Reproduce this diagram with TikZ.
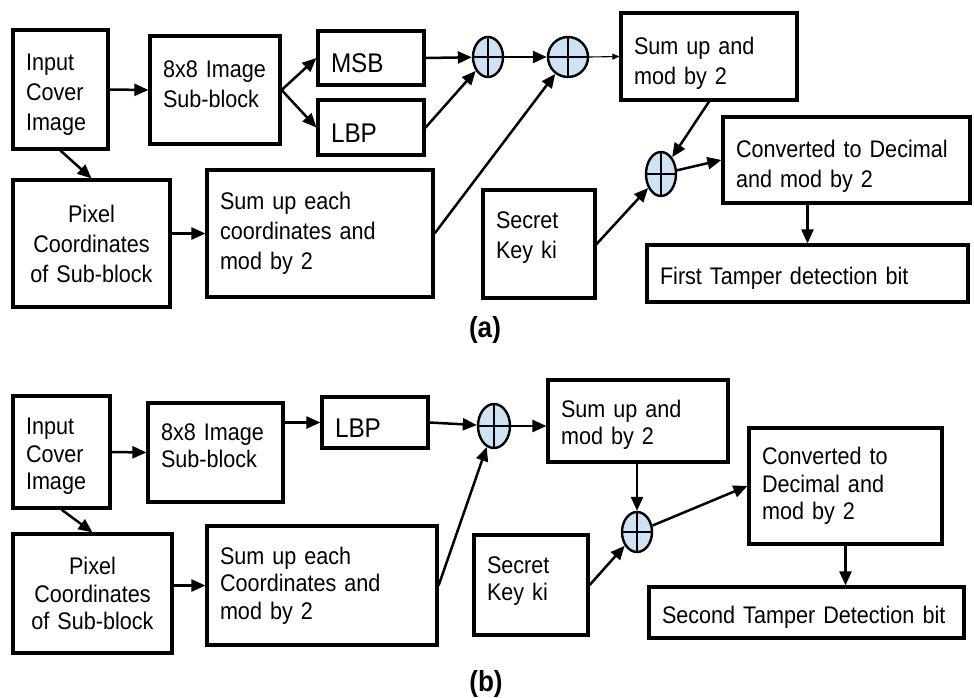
\documentclass[tikz,border=0pt]{standalone}
\usepackage{fontspec}
\setmainfont{Liberation Sans}[FakeStretch=0.9]
\usetikzlibrary{arrows.meta,shapes.geometric,calc}

\definecolor{xorfill}{HTML}{CFE2F3}

\tikzset{
  blk/.style={draw, line width=3.2pt, align=left, inner xsep=12pt, inner ysep=0pt,
    font=\fontsize{24}{30}\selectfont},
  blkb/.style={blk, font=\fontsize{24}{27.5}\selectfont},
  bigtext/.style={font=\fontsize{27}{30}\selectfont},
  xorgate/.style={draw, ellipse, line width=2.4pt, fill=xorfill, inner sep=0pt,
    path picture={\draw[line width=2pt]
      (path picture bounding box.north) -- (path picture bounding box.south)
      (path picture bounding box.west) -- (path picture bounding box.east);}},
  flow/.style={line width=2.5pt, -{Triangle[length=14pt,width=12pt]}},
  thinflow/.style={line width=1.1pt, -{Triangle[length=7pt,width=6pt]}},
  caption/.style={font=\fontsize{29}{30}\selectfont\bfseries}
}

% box from corner (x1,y1) to corner (x2,y2), y measured downwards
\newcommand\boxat[7][blk]{%
  \pgfmathsetmacro\bxw{#5-#3}\pgfmathsetmacro\bxh{#6-#4}%
  \pgfmathsetmacro\bxt{#5-#3-26}%
  \node[#1, text width=\bxt pt, minimum width=\bxw pt, minimum height=\bxh pt]
    (#2) at ({(#3+#5)/2},{(#4+#6)/2}) {#7};}

% exclusive-or gate: name, centre x, centre y, half width, half height
\newcommand\xorat[5]{%
  \node[xorgate, minimum width=#4*2pt, minimum height=#5*2pt] (#1) at (#2,#3) {};}

% move a box's text down (taller first line) or up (space below the last line)
\newcommand\txtlower[1]{\rule{0pt}{\dimexpr0.72em+#1\relax}}
\newcommand\txtraise[1]{\par\hrule height 0pt\vskip#1\hrule height 0pt}

\begin{document}
\begin{tikzpicture}[x=1pt,y=-1pt]
\useasboundingbox (0,0) rectangle (974,697);

% ---------- (a) first tamper detection bit ----------
\boxat{inA}{13}{30}{108}{149}{\txtlower{10pt}Input\\Cover\\Image}
\boxat{subA}{150}{36}{280}{144}{8x8 Image\\Sub-block\txtraise{12pt}}
\boxat[blk,bigtext]{msbA}{318}{31}{424}{85}{\txtlower{10pt}MSB}
\boxat[blk,bigtext]{lbpA}{318}{100}{424}{155}{\txtlower{10pt}LBP}
\boxat[blk,align=center]{pixA}{13}{180}{170}{307}{Pixel\\Coordinates\\of Sub-block}
\boxat{sumA}{207}{170}{433}{297}{Sum up each\\coordinates and\\mod by 2}
\boxat{secA}{483}{190}{595}{298}{Secret\\Key ki\txtraise{12pt}}
\boxat{supA}{621}{13}{797}{100}{\txtlower{14pt}Sum up and\\mod by 2}
\boxat{convA}{723}{117}{970}{203}{\txtlower{12pt}Converted to Decimal\\and mod by 2}
\boxat{firstA}{647}{245}{968}{302}{\txtlower{10pt}First Tamper detection bit}
\xorat{xA1}{488}{57}{15}{20}
\xorat{xA2}{568}{57}{20}{20}
\xorat{xA3}{661}{174}{15}{22}
\node[caption] (capA) at (485,330) {(a)};

\draw[flow] (inA.east) -- (subA.west);
\draw[flow] (inA.south) -- (pixA.north);
\draw[flow] (subA.east) -- (msbA.west);
\draw[flow] (subA.east) -- (lbpA.west);
\draw[flow] (msbA.east) -- (xA1);
\draw[flow] (lbpA.east) -- (xA1);
\draw[flow] (xA1) -- (xA2);
\draw[thinflow] (xA2.east) -- (supA.west);
\draw[flow] (pixA.east |- sumA.west) -- (sumA.west);
\draw[flow] (sumA.east) -- (xA2);
\draw[flow] (supA.south) -- (xA3);
\draw[flow] (secA.east) -- (xA3);
\draw[flow] (xA3) -- (convA.west);
\draw[flow] (firstA.north |- convA.south) -- (firstA.north);

% ---------- (b) second tamper detection bit ----------
\boxat[blkb]{inB}{13}{396}{110}{508}{\txtlower{8pt}Input\\Cover\\Image}
\boxat[blkb]{subB}{148}{403}{283}{502}{8x8 Image\\Sub-block\txtraise{14pt}}
\boxat[blkb,bigtext]{lbpB}{322}{397}{428}{448}{\txtlower{10pt}LBP}
\boxat[blkb,align=center]{pixB}{13}{534}{172}{653}{Pixel\\Coordinates\\of Sub-block}
\boxat[blkb]{sumB}{207}{526}{437}{645}{Sum up each\\Coordinates and\\mod by 2}
\boxat[blkb]{secB}{474}{535}{588}{635}{Secret\\Key ki\txtraise{8pt}}
\boxat[blkb]{supB}{548}{380}{728}{462}{\txtlower{8pt}Sum up and\\mod by 2}
\boxat[blkb]{convB}{749}{428}{942}{544}{Converted to\\Decimal and\\mod by 2}
\boxat[blkb]{secondB}{649}{587}{964}{638}{\txtlower{10pt}Second Tamper Detection bit}
\xorat{xB1}{494}{426}{16}{22}
\xorat{xB2}{637}{532}{15}{20}
\node[caption] (capB) at (486,684) {(b)};

\draw[flow] (inB.east) -- (subB.west);
\draw[flow] (inB.south) -- (pixB.north);
\draw[flow] (subB.east |- lbpB.west) -- (lbpB.west);
\draw[flow] (lbpB.east) -- (xB1);
\draw[flow] (xB1.east) -- (supB.west |- xB1.east);
\draw[flow] (pixB.east |- sumB.west) -- (sumB.west);
\draw[flow] (sumB.east) -- (xB1);
\draw[flow] (xB2 |- supB.south) -- (xB2);
\draw[flow] (secB.east) -- (xB2);
\draw[flow] (xB2) -- (convB.west);
\draw[flow] (convB.south) -- (convB.south |- secondB.north);
\end{tikzpicture}
\end{document}
